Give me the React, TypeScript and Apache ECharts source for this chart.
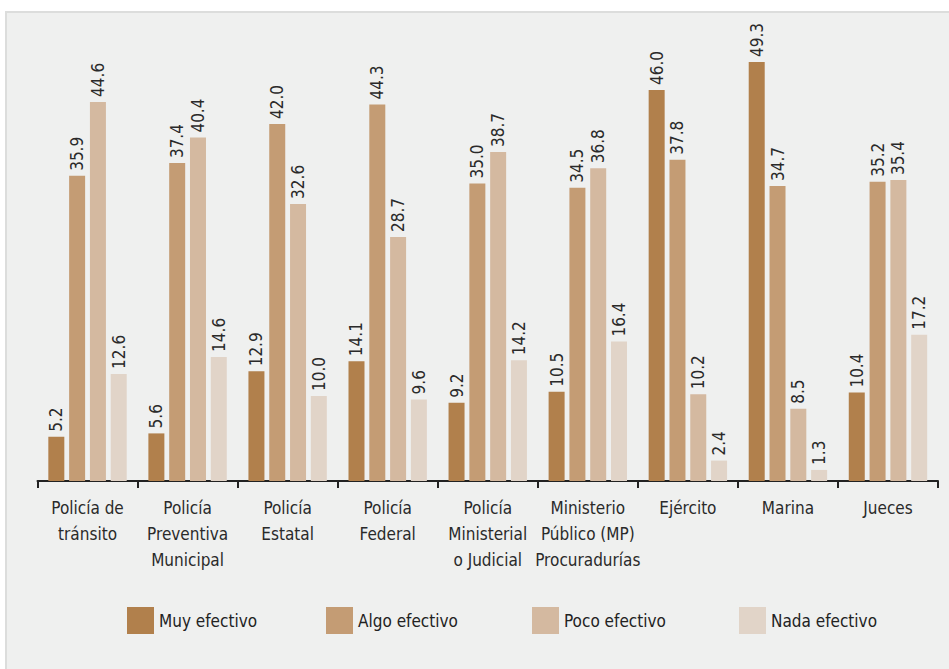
import React, { useEffect, useRef } from "react";
import * as echarts from "echarts";

const categories = [
  "Policía de\ntránsito",
  "Policía\nPreventiva\nMunicipal",
  "Policía\nEstatal",
  "Policía\nFederal",
  "Policía\nMinisterial\no Judicial",
  "Ministerio\nPúblico (MP)\nProcuradurías",
  "Ejército",
  "Marina",
  "Jueces",
];

const seriesNames = ["Muy efectivo", "Algo efectivo", "Poco efectivo", "Nada efectivo"];
const muyEfectivo = [5.2, 5.6, 12.9, 14.1, 9.2, 10.5, 46.0, 49.3, 10.4];
const algoEfectivo = [35.9, 37.4, 42.0, 44.3, 35.0, 34.5, 37.8, 34.7, 35.2];
const pocoEfectivo = [44.6, 40.4, 32.6, 28.7, 38.7, 36.8, 10.2, 8.5, 35.4];
const nadaEfectivo = [12.6, 14.6, 10.0, 9.6, 14.2, 16.4, 2.4, 1.3, 17.2];
const colors = ["#b1804c", "#c49c74", "#d4b9a0", "#e1d4c8"];
const legendLefts = [127, 326, 532, 739];

const FONT = "'DejaVu Sans Condensed', 'Liberation Sans Narrow', sans-serif";

export default function App() {
  const ref = useRef<HTMLDivElement>(null);
  useEffect(() => {
    if (!ref.current) return;
    const chart = echarts.init(ref.current, null, { renderer: "svg" });
    const values = [muyEfectivo, algoEfectivo, pocoEfectivo, nadaEfectivo];
    chart.setOption({
      animation: false,
      backgroundColor: "#ffffff",
      textStyle: { fontFamily: FONT },
      graphic: [
        {
          type: "rect",
          z: -10,
          silent: true,
          shape: { x: 6, y: 12, width: 960, height: 670 },
          style: { fill: "#eff0ef", stroke: "#dcdddc", lineWidth: 2 },
        },
      ],
      legend: seriesNames.map((name, i) => ({
        left: legendLefts[i],
        top: 607,
        padding: 0,
        itemWidth: 27,
        itemHeight: 27,
        itemGap: 5,
        icon: "rect",
        textStyle: { fontSize: 17, color: "#222", fontFamily: FONT },
        data: [name],
      })),
      grid: { left: 37.5, right: 11, top: 56, bottom: 188, containLabel: false },
      xAxis: {
        type: "category",
        data: categories,
        axisLine: { lineStyle: { color: "#222", width: 2 } },
        axisTick: { show: true, length: 7, lineStyle: { color: "#222", width: 2 } },
        axisLabel: {
          interval: 0,
          margin: 14,
          fontSize: 17,
          lineHeight: 26,
          color: "#2a2a2a",
          fontFamily: FONT,
        },
      },
      yAxis: {
        type: "value",
        min: 0,
        max: 50,
        show: false,
        splitLine: { show: false },
      },
      series: seriesNames.map((name, i) => ({
        name,
        type: "bar",
        data: values[i],
        barWidth: 16,
        barGap: "30%",
        itemStyle: { color: colors[i] },
        label: {
          show: true,
          position: "top",
          rotate: 90,
          align: "left",
          verticalAlign: "middle",
          distance: 5,
          fontSize: 17,
          color: "#2a2a2a",
          fontFamily: FONT,
          formatter: (p: any) => Number(p.value).toFixed(1),
        },
      })),
    });
    return () => chart.dispose();
  }, []);
  return (
    <div
      ref={ref}
      style={{ position: "fixed", left: 0, top: 0, width: 949, height: 669 }}
    />
  );
}
